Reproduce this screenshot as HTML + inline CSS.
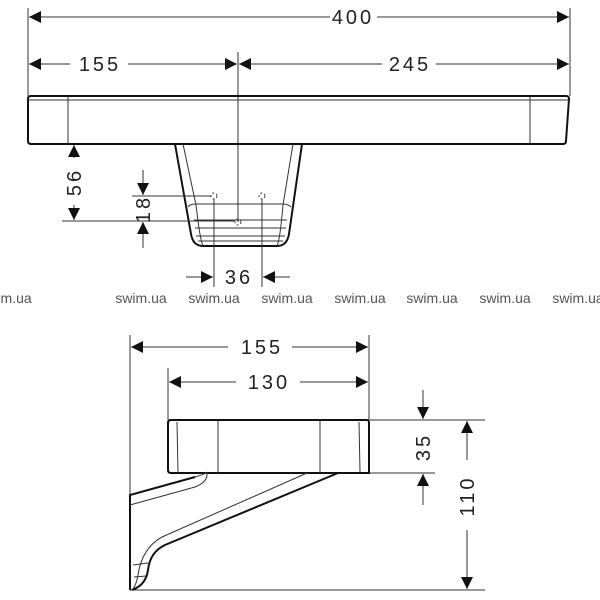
<!DOCTYPE html>
<html><head><meta charset="utf-8"><style>
html,body{margin:0;padding:0;background:#fff;width:600px;height:600px;overflow:hidden}
svg{display:block}
text{font-family:"Liberation Sans",sans-serif;font-size:20px;fill:#222;letter-spacing:3px}
.w{font-size:14px;fill:#555;letter-spacing:0}
</style></head><body>
<svg width="600" height="600" viewBox="0 0 600 600" xmlns="http://www.w3.org/2000/svg">
<defs>
<marker id="a" viewBox="0 0 10 10" refX="10" refY="5" markerWidth="12" markerHeight="12" markerUnits="userSpaceOnUse" orient="auto-start-reverse"><path d="M0,0L10,5L0,10z" fill="#111"/></marker>
</defs>
<g stroke="#333" stroke-width="1" fill="none">
<!-- top extension -->
<line x1="28" y1="8" x2="28" y2="96"/><line x1="570" y1="8" x2="570" y2="96"/>
<line x1="238" y1="52" x2="238" y2="222"/>
<line x1="29" y1="17" x2="330" y2="17" marker-start="url(#a)"/><line x1="377" y1="17" x2="569" y2="17" marker-end="url(#a)"/>
<line x1="29" y1="64" x2="70" y2="64" marker-start="url(#a)"/><line x1="128" y1="64" x2="237" y2="64" marker-end="url(#a)"/>
<line x1="239" y1="64" x2="382" y2="64" marker-start="url(#a)"/><line x1="436" y1="64" x2="569" y2="64" marker-end="url(#a)"/>
<!-- slab -->
<path d="M31,96H566Q569,96 569,99L566,141Q566,144 563,144H31Q28,144 28,141V99Q28,96 31,96Z" stroke="#111" stroke-width="2"/>
<line x1="28" y1="100" x2="569" y2="100"/>
<line x1="68" y1="97" x2="68" y2="144"/><line x1="530" y1="97" x2="530" y2="144"/>
<!-- pedestal -->
<path d="M175,144L191,234Q193,246 203,246H277Q287,246 289,234L302,144" stroke="#111" stroke-width="2"/>
<path d="M183,144L196,205Q200,240 203,246"/><path d="M293,144L283,205Q280,240 277,246"/>
<path d="M188,207Q190,204 196,204H283Q288,204 291,207"/>
<line x1="194" y1="220" x2="287" y2="220"/><line x1="195" y1="228" x2="286" y2="228"/><line x1="196" y1="236" x2="285" y2="236"/><line x1="198" y1="241" x2="283" y2="241"/>
<circle cx="214" cy="196" r="3" stroke-dasharray="2 2"/><circle cx="262" cy="196" r="3" stroke-dasharray="2 2"/><circle cx="238" cy="222" r="3" stroke-dasharray="2 2"/>
<!-- 56 -->
<line x1="62" y1="221" x2="235" y2="221"/>
<line x1="74" y1="145" x2="74" y2="158" marker-start="url(#a)"/><line x1="74" y1="205" x2="74" y2="220" marker-end="url(#a)"/>
<!-- 18 -->
<line x1="132" y1="196" x2="211" y2="196"/>
<line x1="143" y1="170" x2="143" y2="195" marker-end="url(#a)"/><line x1="143" y1="248" x2="143" y2="222" marker-end="url(#a)"/>
<!-- 36 -->
<line x1="214" y1="199" x2="214" y2="287"/><line x1="262" y1="199" x2="262" y2="287"/>
<line x1="186" y1="277" x2="213" y2="277" marker-end="url(#a)"/><line x1="290" y1="277" x2="263" y2="277" marker-end="url(#a)"/>
<!-- bottom dims -->
<line x1="130" y1="335" x2="130" y2="590"/><line x1="369" y1="335" x2="369" y2="420"/><line x1="168" y1="368" x2="168" y2="420"/>
<line x1="131" y1="347" x2="228" y2="347" marker-start="url(#a)"/><line x1="292" y1="347" x2="368" y2="347" marker-end="url(#a)"/>
<line x1="169" y1="382" x2="236" y2="382" marker-start="url(#a)"/><line x1="300" y1="382" x2="368" y2="382" marker-end="url(#a)"/>
<line x1="370" y1="420" x2="485" y2="420"/><line x1="370" y1="473" x2="435" y2="473"/>
<line x1="423" y1="390" x2="423" y2="419" marker-end="url(#a)"/><line x1="423" y1="505" x2="423" y2="474" marker-end="url(#a)"/>
<line x1="467" y1="421" x2="467" y2="460" marker-start="url(#a)"/><line x1="467" y1="530" x2="467" y2="589" marker-end="url(#a)"/>
<line x1="130" y1="590" x2="485" y2="590"/>
<!-- side basin -->
<path d="M171,420H367Q369,420 369,423V473H171Q168,473 168,470V423Q168,420 171,420Z" stroke="#111" stroke-width="2"/>
<path d="M177,422L178,472M218,421V473M320,421V473M359,422L360,472"/>
<!-- bracket -->
<path d="M130,590V495L195,477" stroke="#111" stroke-width="2"/>
<path d="M195,477Q205,474 208,472"/>
<path d="M338,473L165,545Q150,552 148,570Q146,585 132,590" stroke="#111" stroke-width="2"/>
<path d="M130,505L195,487Q208,482 207,473"/>
<path d="M307,473L162,537Q142,548 138,575Q136,586 132,590"/>
<path d="M133,565L148,563M134,577L146,576"/>
</g>
<g text-anchor="middle">
<text x="353" y="24">400</text>
<text x="100" y="71">155</text>
<text x="410" y="71">245</text>
<text transform="translate(81,182) rotate(-90)">56</text>
<text transform="translate(150,209) rotate(-90)">18</text>
<text x="239" y="284">36</text>
<text x="262" y="354">155</text>
<text x="269" y="389">130</text>
<text transform="translate(430,447) rotate(-90)">35</text>
<text transform="translate(474,496) rotate(-90)">110</text>
</g>
<g class="w" text-anchor="middle">
<text class="w" x="6" y="303">swim.ua</text><text class="w" x="141" y="303">swim.ua</text><text class="w" x="214" y="303">swim.ua</text><text class="w" x="287" y="303">swim.ua</text><text class="w" x="360" y="303">swim.ua</text><text class="w" x="432" y="303">swim.ua</text><text class="w" x="505" y="303">swim.ua</text><text class="w" x="578" y="303">swim.ua</text>
</g>
</svg>
</body></html>
